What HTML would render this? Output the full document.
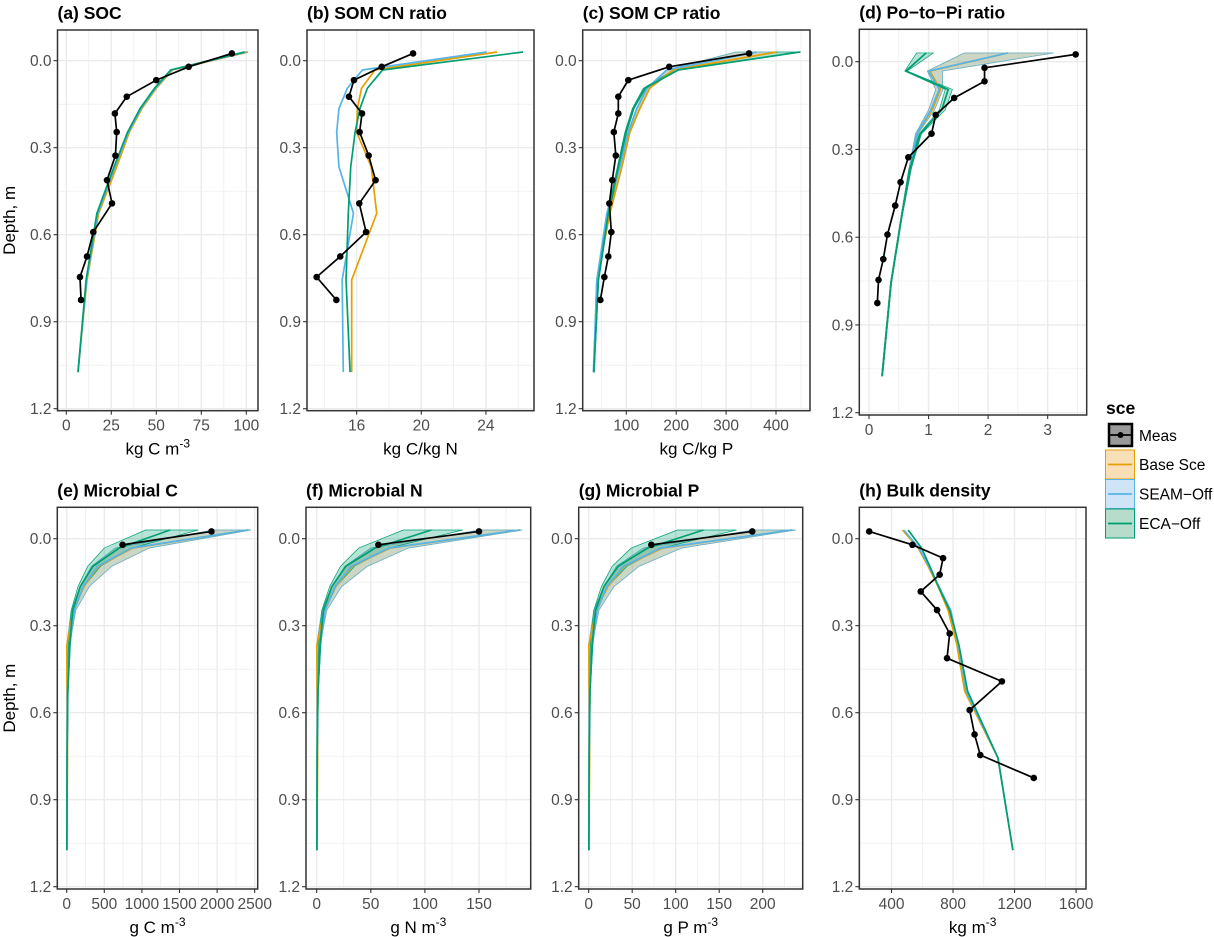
<!DOCTYPE html>
<html><head><meta charset="utf-8">
<style>
html,body{margin:0;padding:0;background:#fff;}
svg{display:block;font-family:"Liberation Sans",Arial,sans-serif;}
.tick{fill:#4d4d4d;font-size:15.5px;}
.ttl{font-weight:bold;font-size:17.5px;fill:#000;}
.axt{font-size:17px;fill:#000;}
</style></head>
<body>
<svg id="chart" width="1214" height="937" viewBox="0 0 1214 937" xmlns="http://www.w3.org/2000/svg"></svg>
<script>
// ---- data ----
const modelDepths = [-0.03, 0.032, 0.095, 0.165, 0.247, 0.366, 0.526, 0.756, 1.074];
const measDepths = [-0.025, 0.021, 0.067, 0.124, 0.182, 0.246, 0.327, 0.412, 0.492, 0.591, 0.675, 0.746, 0.825];
const measDepthsMicro = [-0.025, 0.021];

const socMeas = [92, 68, 50, 33.6, 27, 28, 27.3, 22.6, 25.4, 15, 11.5, 7.6, 8.2];
const socBase = [101, 59, 50, 42, 35, 28, 18, 11.5, 6.5];
const socSeam = [100, 58.5, 49.5, 41.5, 34.5, 27, 17.5, 11.3, 6.5];
const socEca = [99, 58, 49, 41, 34, 26.5, 17, 11, 6.5];

const cnMeas = [19.49, 17.55, 15.83, 15.52, 16.33, 16.18, 16.74, 17.17, 16.16, 16.58, 14.98, 13.52, 14.74];
const cnBase = [24.7, 17.13, 16.3, 16.04, 16.0, 16.9, 17.24, 15.69, 15.69];
const cnSeam = [24.05, 16.35, 15.42, 14.9, 14.76, 14.9, 15.8, 15.1, 15.17];
const cnEca = [26.3, 17.6, 16.66, 16.2, 15.9, 15.63, 15.48, 15.34, 15.59];

const cpMeas = [346, 186, 104, 84, 84, 75, 79, 72, 66, 70, 64, 56, 48];
const cpBase = [401, 194, 147, 127, 107, 91, 67, 41, 35];
const cpSeam = [361, 181, 142, 121, 104, 87, 61, 41, 34];
const cpEca = [448, 204, 137, 114, 99, 84, 64, 44, 35];
const cpBaseLo = [320, 180, 140, 120, 103, 87, 62, 40, 34];
const cpBaseHi = [405, 197, 148, 128, 108, 92, 68, 42, 36];
const cpEcaLo = [400, 195, 134, 112, 97, 82, 62, 43, 34];
const cpEcaHi = [450, 206, 139, 116, 101, 86, 66, 45, 36];

const poMeas = [3.47, 1.94, 1.94, 1.43, 1.12, 1.05, 0.66, 0.53, 0.44, 0.31, 0.24, 0.16, 0.14];
const poBase = [2.33, 1.02, 1.2, 1.06, 0.8, 0.69, 0.55, 0.37, 0.22];
const poSeam = [2.33, 1.0, 1.18, 1.04, 0.8, 0.69, 0.55, 0.37, 0.22];
const poEca = [0.96, 0.62, 1.33, 1.22, 0.86, 0.69, 0.55, 0.37, 0.22];
const poBaseLo = [1.6, 0.98, 1.12, 1.0, 0.78, 0.67, 0.54, 0.36, 0.21];
const poBaseHi = [3.1, 1.23, 1.24, 1.1, 0.82, 0.71, 0.56, 0.38, 0.23];
const poEcaLo = [0.8, 0.6, 1.28, 1.18, 0.84, 0.67, 0.54, 0.36, 0.21];
const poEcaHi = [1.08, 0.64, 1.4, 1.28, 0.88, 0.71, 0.56, 0.38, 0.23];

const mcMeas = [1925, 743];
const mcBase = [2415, 880, 420, 230, 90, 2, 5, 10, 2];
const mcSeam = [2415, 860, 410, 220, 100, 40, 10, 5, 2];
const mcEca = [1375, 700, 350, 180, 80, 40, 15, 5, 2];
const mcBaseLo = [1950, 650, 330, 180, 60, 0, 0, 0, 0];
const mcBaseHi = [2450, 1100, 600, 300, 120, 40, 20, 10, 5];
const mcEcaLo = [1050, 500, 280, 150, 60, 20, 5, 2, 1];
const mcEcaHi = [1750, 870, 450, 230, 100, 50, 20, 8, 3];

const mnMeas = [150, 57];
const mnBase = [188, 68, 33, 17.5, 7, 0.2, 0.4, 0.8, 0.2];
const mnSeam = [188, 67, 32, 17, 7.8, 3.1, 0.8, 0.4, 0.2];
const mnEca = [106, 54, 27, 14, 6.2, 3.1, 1.2, 0.4, 0.2];
const mnBaseLo = [151, 50, 26, 14, 4.7, 0, 0, 0, 0];
const mnBaseHi = [190, 85, 47, 23, 9.3, 3.1, 1.6, 0.8, 0.4];
const mnEcaLo = [80, 39, 22, 12, 4.7, 1.6, 0.4, 0.2, 0.1];
const mnEcaHi = [135, 67, 35, 18, 7.8, 3.9, 1.6, 0.6, 0.2];

const mpMeas = [188, 72];
const mpBase = [234, 85, 41, 22, 8.7, 0.2, 0.5, 1, 0.2];
const mpSeam = [234, 83, 40, 21, 9.7, 3.9, 1, 0.5, 0.2];
const mpEca = [132, 68, 34, 17.5, 7.8, 3.9, 1.5, 0.5, 0.2];
const mpBaseLo = [189, 63, 32, 17.5, 5.8, 0, 0, 0, 0];
const mpBaseHi = [238, 107, 58, 29, 11.7, 3.9, 1.9, 1, 0.5];
const mpEcaLo = [102, 49, 27, 14.6, 5.8, 1.9, 0.5, 0.2, 0.1];
const mpEcaHi = [170, 84, 44, 22, 9.7, 4.9, 1.9, 0.8, 0.3];

const bdMeas = [255, 536, 735, 713, 590, 696, 778, 761, 1118, 908, 940, 977, 1325];
const bdBase = [471, 573, 638, 703, 768, 825, 876, 1092, 1189];
const bdSeam = [480, 578, 643, 708, 785, 835, 886, 1092, 1189];
const bdEca = [508, 595, 649, 705, 778, 838, 895, 1092, 1189];

const depthTicks = [0, 0.3, 0.6, 0.9, 1.2];
const depthTickLabels = ["0.0", "0.3", "0.6", "0.9", "1.2"];

// ---- layout ----
const NS = "http://www.w3.org/2000/svg";
const svg = document.getElementById('chart');
const COL = {base: '#E69F00', seam: '#56B4E9', eca: '#009E73'};

function mk(tag, attrs, parent) {
  const e = document.createElementNS(NS, tag);
  for (const k in attrs) e.setAttribute(k, attrs[k]);
  (parent || svg).appendChild(e);
  return e;
}

const panels = [
  {id:'a', title:'(a) SOC', box:[57.5,258,30,410.7], x0:66.3, kx:1.8, y0:60.7, ky:290, ticks:[0,25,50,75,100], minor:[12.5,37.5,62.5,87.5], xt:['kg C m','-3'], yLab:true,
   meas:socMeas, md:measDepths, base:socBase, seam:socSeam, eca:socEca},
  {id:'b', title:'(b) SOM CN ratio', box:[307,534,30,410.7], x0:356.7-16*16.15, kx:16.15, y0:60.7, ky:290, ticks:[16,20,24], minor:[14,18,22,26], xt:['kg C/kg N',''],
   meas:cnMeas, md:measDepths, base:cnBase, seam:cnSeam, eca:cnEca},
  {id:'c', title:'(c) SOM CP ratio', box:[582.7,810,30,410.7], x0:626.3-100*0.499, kx:0.499, y0:60.7, ky:290, ticks:[100,200,300,400], minor:[50,150,250,350,450], xt:['kg C/kg P',''],
   meas:cpMeas, md:measDepths, base:cpBase, seam:cpSeam, eca:cpEca, bLo:cpBaseLo, bHi:cpBaseHi, eLo:cpEcaLo, eHi:cpEcaHi},
  {id:'d', title:'(d) Po\u2212to\u2212Pi ratio', box:[859.3,1086.7,29.3,415], x0:869, kx:59.56, y0:61.7, ky:292.5, ticks:[0,1,2,3], minor:[0.5,1.5,2.5,3.5], xt:['',''],
   meas:poMeas, md:measDepths, base:poBase, seam:poSeam, eca:poEca, bLo:poBaseLo, bHi:poBaseHi, eLo:poEcaLo, eHi:poEcaHi},
  {id:'e', title:'(e) Microbial C', box:[57.3,257.7,507.3,889], x0:66.7, kx:0.0752, y0:538.7, ky:290, ticks:[0,500,1000,1500,2000,2500], minor:[250,750,1250,1750,2250], xt:['g C m','-3'], yLab:true,
   meas:mcMeas, md:measDepthsMicro, base:mcBase, seam:mcSeam, eca:mcEca, bLo:mcBaseLo, bHi:mcBaseHi, eLo:mcEcaLo, eHi:mcEcaHi},
  {id:'f', title:'(f) Microbial N', box:[306,530.7,507.3,889], x0:316.7, kx:1.082, y0:538.7, ky:290, ticks:[0,50,100,150], minor:[25,75,125,175], xt:['g N m','-3'],
   meas:mnMeas, md:measDepthsMicro, base:mnBase, seam:mnSeam, eca:mnEca, bLo:mnBaseLo, bHi:mnBaseHi, eLo:mnEcaLo, eHi:mnEcaHi},
  {id:'g', title:'(g) Microbial P', box:[578.7,802.7,507.3,889], x0:588.7, kx:0.87, y0:538.7, ky:290, ticks:[0,50,100,150,200], minor:[25,75,125,175,225], xt:['g P m','-3'],
   meas:mpMeas, md:measDepthsMicro, base:mpBase, seam:mpSeam, eca:mpEca, bLo:mpBaseLo, bHi:mpBaseHi, eLo:mpEcaLo, eHi:mpEcaHi},
  {id:'h', title:'(h) Bulk density', box:[859.3,1086,507.3,889], x0:830, kx:0.1538, y0:538.7, ky:290, ticks:[400,800,1200,1600], minor:[200,600,1000,1400], xt:['kg m','-3'],
   meas:bdMeas, md:measDepths, base:bdBase, seam:bdSeam, eca:bdEca}
];

panels.forEach(p => {
  const [L,R,T,B] = p.box;
  const X = v => p.x0 + v * p.kx;
  const Y = d => p.y0 + d * p.ky;
  const g = mk('g', {});
  
  
  const cid = 'clip' + p.id;
  const cp = mk('clipPath', {id: cid}, g);
  mk('rect', {x:L, y:T, width:R-L, height:B-T}, cp);

  const t = mk('text', {x:L, y:T-11, class:'ttl'}, g);
  t.textContent = p.title;
  
  

  const grid = mk('g', {'clip-path':'url(#'+cid+')'}, g);
  
  
  [-0.15,0.15,0.45,0.75,1.05].forEach(d => mk('line',{x1:L,x2:R,y1:Y(d),y2:Y(d),stroke:'#ebebeb','stroke-width':0.7},grid));
  p.minor.forEach(v => mk('line',{x1:X(v),x2:X(v),y1:T,y2:B,stroke:'#ebebeb','stroke-width':0.7},grid));
  depthTicks.forEach(d => mk('line',{x1:L,x2:R,y1:Y(d),y2:Y(d),stroke:'#ebebeb','stroke-width':1.4},grid));
  p.ticks.forEach(v => mk('line',{x1:X(v),x2:X(v),y1:T,y2:B,stroke:'#ebebeb','stroke-width':1.4},grid));

  const plot = mk('g', {'clip-path':'url(#'+cid+')'}, g);
  
  

  function ribbon(lo, hi, col, name) {
    if (!lo) return;
    const pts = [];
    lo.forEach((v,i) => pts.push(X(v)+','+Y(modelDepths[i])));
    for (let i = hi.length-1; i >= 0; i--) pts.push(X(hi[i])+','+Y(modelDepths[i]));
    const r = mk('polygon', {points: pts.join(' '), fill: col, 'fill-opacity': 0.28, stroke: col, 'stroke-width': 0.7}, plot);
    
    
  }
  ribbon(p.bLo, p.bHi, COL.base, 'ribbon-base-' + p.id);
  ribbon(p.bLo, p.bHi, COL.seam, 'ribbon-seam-' + p.id);
  ribbon(p.eLo, p.eHi, COL.eca, 'ribbon-eca-' + p.id);

  function line(vals, col, name) {
    const pts = vals.map((v,i) => X(v)+','+Y(modelDepths[i])).join(' ');
    const l = mk('polyline', {points: pts, fill: 'none', stroke: col, 'stroke-width': 1.7, 'stroke-linejoin':'round'}, plot);
    
    
  }
  line(p.base, COL.base, 'line-base-' + p.id);
  line(p.seam, COL.seam, 'line-seam-' + p.id);
  line(p.eca, COL.eca, 'line-eca-' + p.id);

  const mpts = p.meas.map((v,i) => X(v)+','+Y(p.md[i])).join(' ');
  const ml = mk('polyline', {points: mpts, fill:'none', stroke:'#000', 'stroke-width':1.7}, plot);
  
  
  p.meas.forEach((v,i) => {
    const c = mk('circle', {cx:X(v), cy:Y(p.md[i]), r:3.3, fill:'#000'}, plot);
    
    
  });

  const bd = mk('rect', {x:L, y:T, width:R-L, height:B-T, fill:'none', stroke:'#333', 'stroke-width':1.5}, g);
  
  

  depthTicks.forEach((d,i) => {
    mk('line', {x1:L-4, x2:L, y1:Y(d), y2:Y(d), stroke:'#333', 'stroke-width':1.1}, g);
    const tx = mk('text', {x:L-6, y:Y(d)+5.5, 'text-anchor':'end', class:'tick'}, g);
    tx.textContent = depthTickLabels[i];
    
    
  });
  p.ticks.forEach(v => {
    mk('line', {x1:X(v), x2:X(v), y1:B, y2:B+4, stroke:'#333', 'stroke-width':1.1}, g);
    const tx = mk('text', {x:X(v), y:B+20, 'text-anchor':'middle', class:'tick'}, g);
    tx.textContent = String(v);
    
    
  });
  if (p.xt[0]) {
    const xt = mk('text', {x:(L+R)/2, y:B+44, 'text-anchor':'middle', class:'axt'}, g);
    
    
    const s1 = mk('tspan', {}, xt); s1.textContent = p.xt[0];
    if (p.xt[1]) { const s2 = mk('tspan', {dy:-7, 'font-size':'12px'}, xt); s2.textContent = p.xt[1]; }
  }
  if (p.yLab) {
    const yt = mk('text', {x:0, y:0, 'text-anchor':'middle', class:'axt', transform:'translate(15,'+((T+B)/2)+') rotate(-90)'}, g);
    yt.textContent = 'Depth, m';
    
    
  }
});

// legend
const lg = mk('g', {});


const lt = mk('text', {x:1106, y:414, class:'ttl'}, lg);
lt.textContent = 'sce';


const mkk = mk('rect', {x:1109, y:424, width:23, height:22, fill:'#999', stroke:'#000', 'stroke-width':2.5}, lg);


mk('line', {x1:1110, x2:1131, y1:435, y2:435, stroke:'#000', 'stroke-width':1.7}, lg);
mk('circle', {cx:1120.5, cy:435, r:3, fill:'#000'}, lg);
const m1 = mk('text', {x:1139, y:441, style:'font-size:15.5px'}, lg);
m1.textContent = 'Meas';


const keys = [
  ['Base Sce', COL.base, '#f8dfb8', 450, 'base'],
  ['SEAM\u2212Off', COL.seam, '#cfe5f7', 479.5, 'seam'],
  ['ECA\u2212Off', COL.eca, '#b6dccb', 509, 'eca']
];
keys.forEach(k => {
  const r = mk('rect', {x:1105.5, y:k[3], width:29, height:29, fill:k[2], stroke:k[1], 'stroke-width':1}, lg);
  
  
  mk('line', {x1:1108, x2:1132, y1:k[3]+14.5, y2:k[3]+14.5, stroke:k[1], 'stroke-width':1.8}, lg);
  const t = mk('text', {x:1139, y:k[3]+20, style:'font-size:15.5px'}, lg);
  t.textContent = k[0];
  
  
});
</script>
</body></html>
